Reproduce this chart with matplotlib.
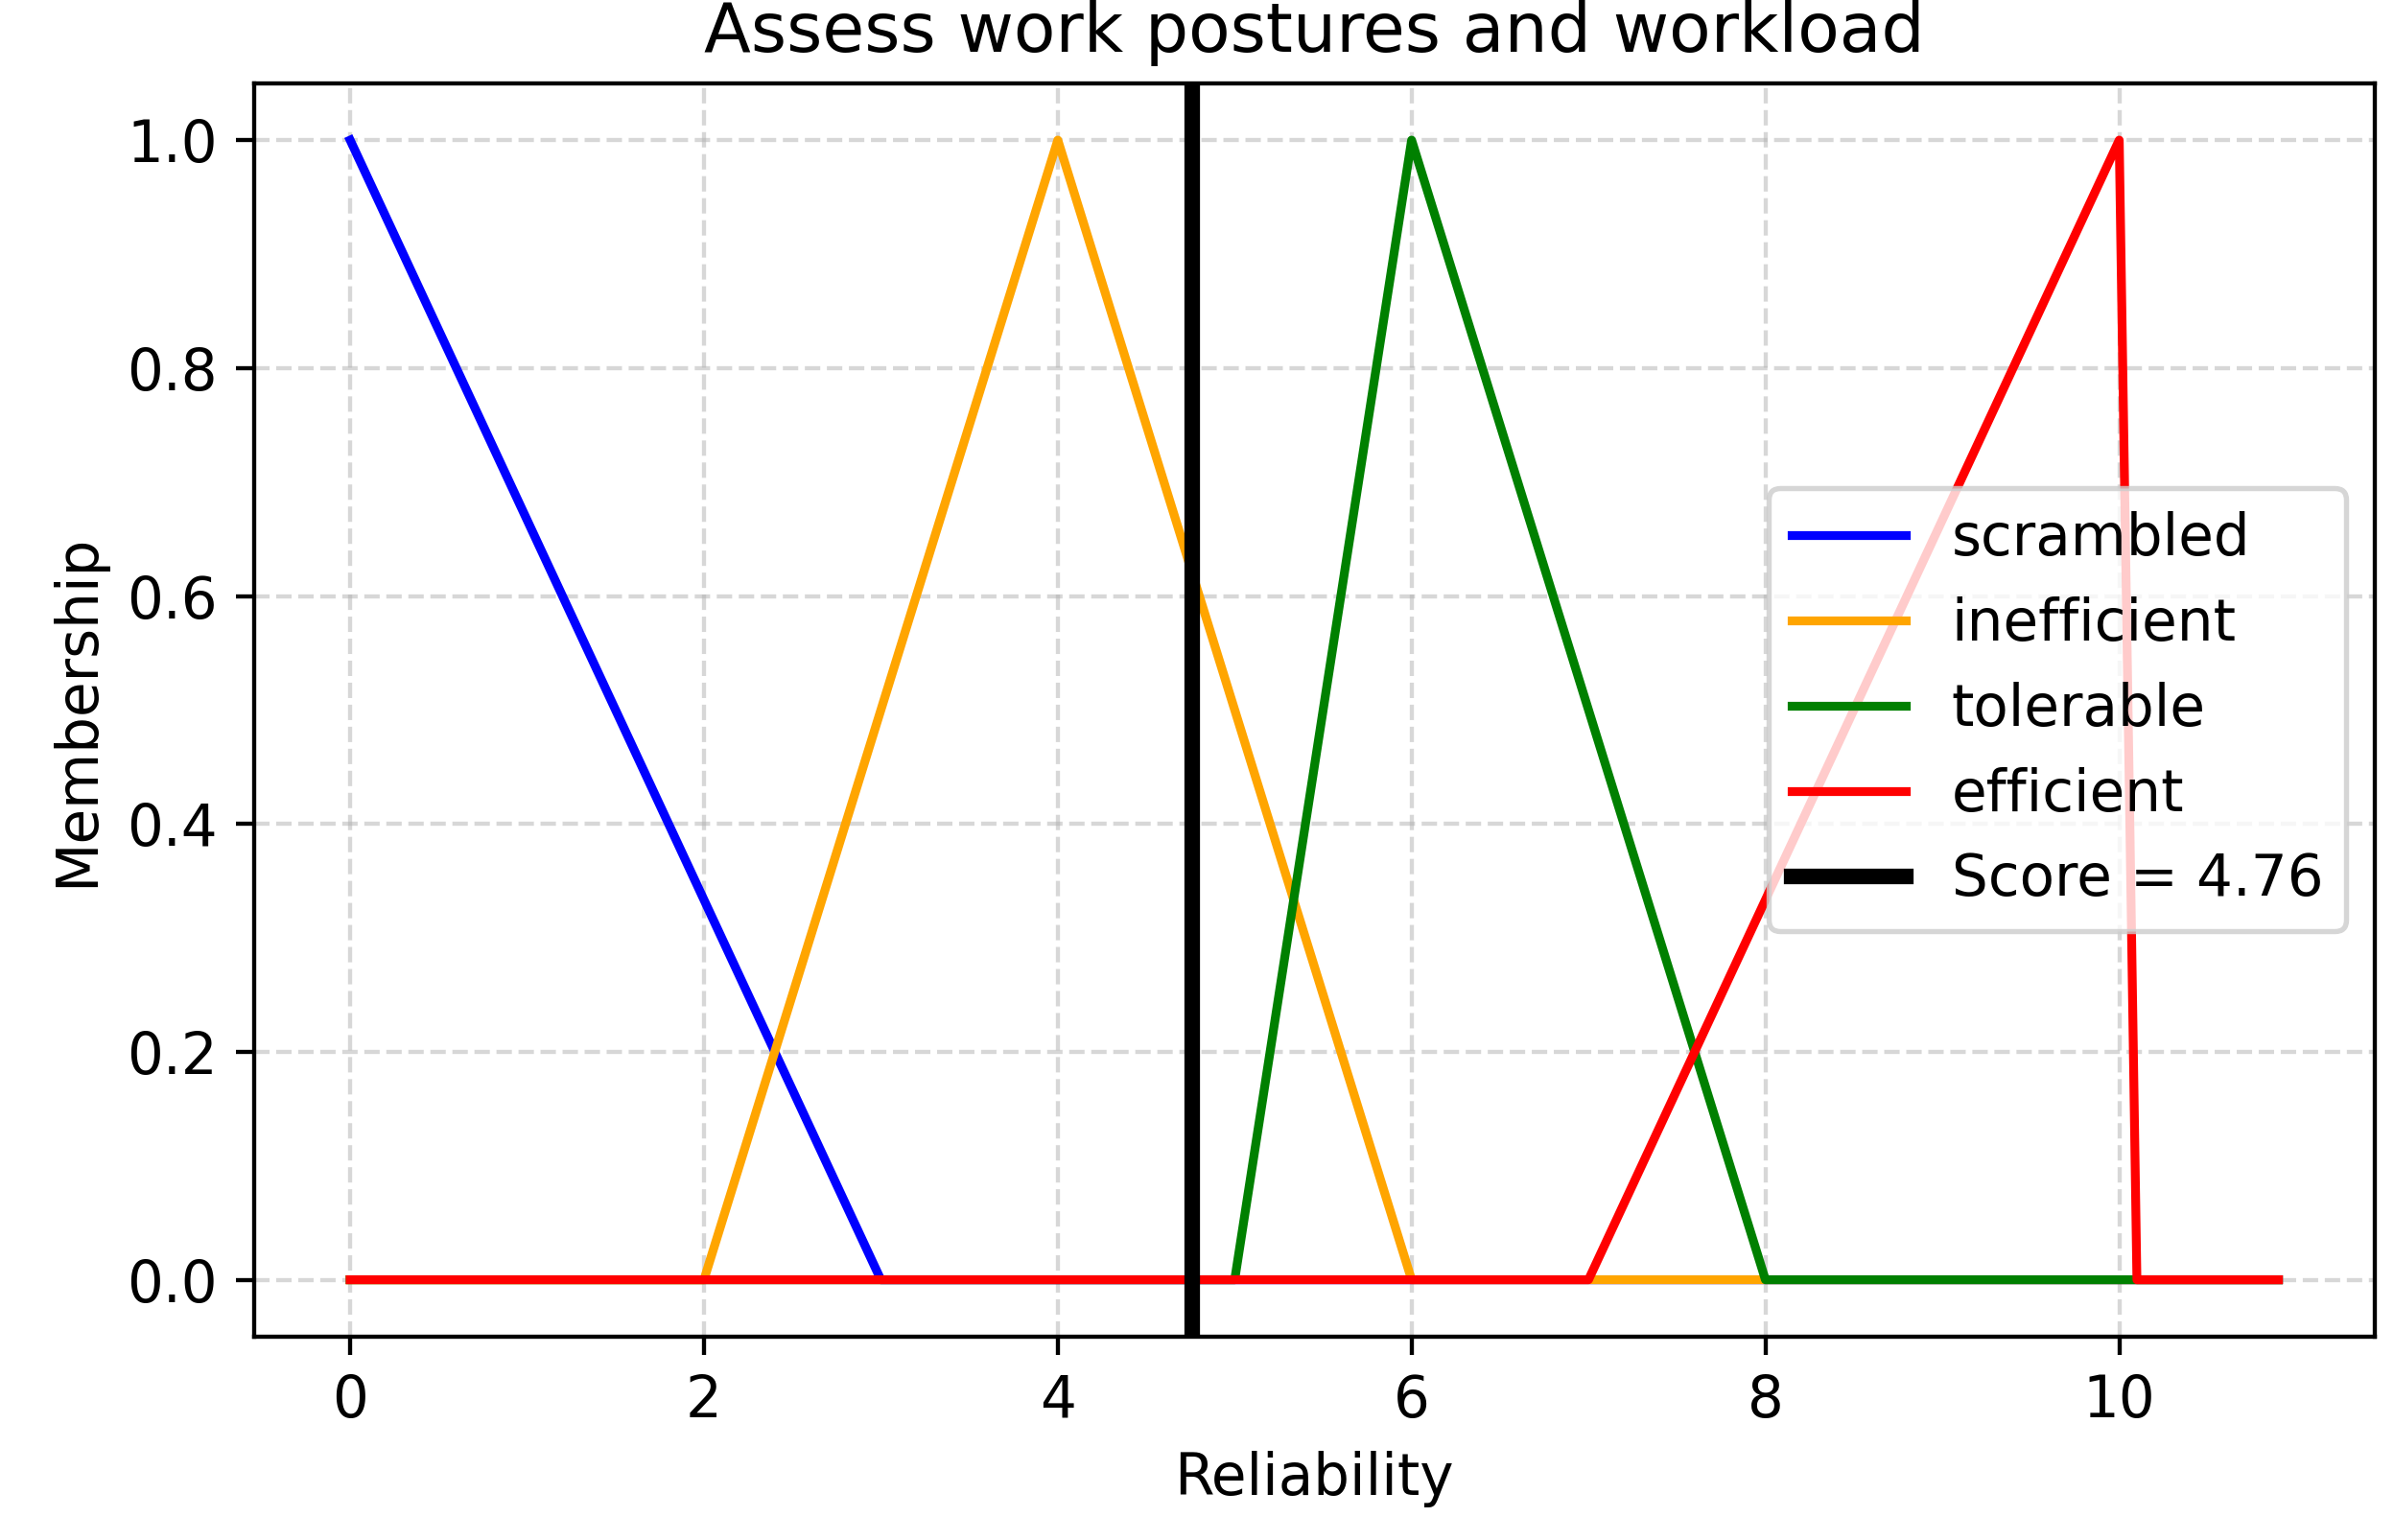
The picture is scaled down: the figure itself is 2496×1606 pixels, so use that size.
import matplotlib.pyplot as plt

# membership function vertices (x, y)
scrambled_x = [0, 3, 10.9]
scrambled_y = [1, 0, 0]
inefficient_x = [0, 2, 4, 6, 10.9]
inefficient_y = [0, 0, 1, 0, 0]
tolerable_x = [0, 5, 6, 8, 10.9]
tolerable_y = [0, 0, 1, 0, 0]
efficient_x = [0, 7, 10, 10.1, 10.9]
efficient_y = [0, 0, 1, 0, 0]
score = 4.76

plt.rcParams['font.size'] = 11
fig = plt.figure(figsize=(6.4, 4.118), dpi=390)
ax = fig.add_axes([0.106, 0.132, 0.886, 0.814])
ax.plot(scrambled_x, scrambled_y, c='blue', lw=1.7, label='scrambled')
ax.plot(inefficient_x, inefficient_y, c='orange', lw=1.7, label='inefficient')
ax.plot(tolerable_x, tolerable_y, c='green', lw=1.7, label='tolerable')
ax.plot(efficient_x, efficient_y, c='red', lw=1.7, label='efficient')
ax.axvline(score, c='black', lw=3, label='Score = {:.2f}'.format(score))
ax.set_title('Assess work postures and workload')
ax.set_xlabel('Reliability')
ax.set_ylabel('Membership')
ax.grid(True, linestyle='--', alpha=0.5)
ax.legend(loc='center right')
fig.savefig('out.png')
